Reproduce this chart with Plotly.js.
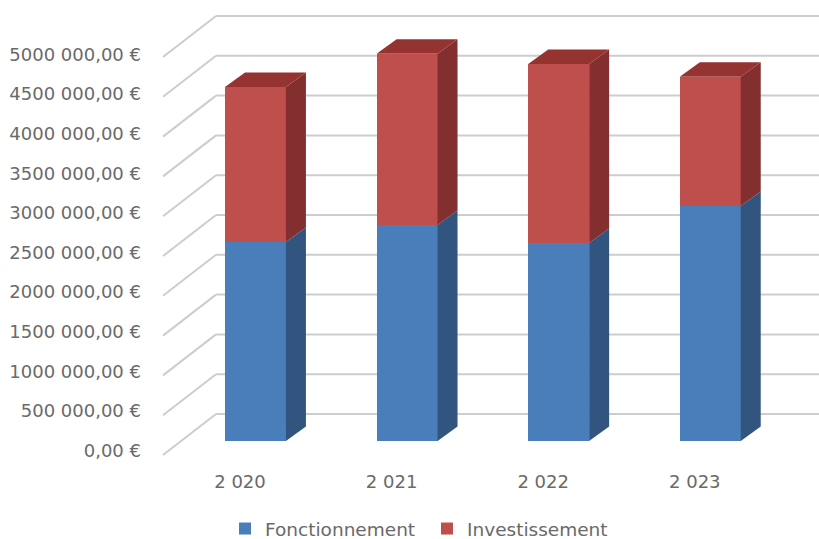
<!DOCTYPE html>
<html>
<head>
<meta charset="utf-8">
<script src="https://cdn.plot.ly/plotly-3.0.1.min.js"></script>
<style>html,body{margin:0;padding:0;background:#fff}</style>
</head>
<body>
<div id="chart" style="width:819px;height:539px"></div>
<script>
const categories = ['2 020', '2 021', '2 022', '2 023'];
const fonctionnement = [2500000, 2714000, 2487000, 2952000];
const investissement = [1947000, 2152000, 2249000, 1625000];
const tickValues = [0, 500000, 1000000, 1500000, 2000000, 2500000, 3000000, 3500000, 4000000, 4500000, 5000000];
const tickLabels = ['0,00 €', '500 000,00 €', '1000 000,00 €', '1500 000,00 €', '2000 000,00 €', '2500 000,00 €', '3000 000,00 €', '3500 000,00 €', '4000 000,00 €', '4500 000,00 €', '5000 000,00 €'];

const W = 819, H = 539, plotL = 142, plotB = H, xLabelTop = 469;
const xPx = 151.6, x0Px = 240;                 // px per category, px of first tick
const yPx = 39.8 / 500000, y0Px = 441;         // bars: px per euro, px of zero
const xr = [(plotL - x0Px) / xPx, (W - x0Px) / xPx];
const yr = [(y0Px - plotB) / yPx, y0Px / yPx];
const yr2 = [(450.5 - plotB) * 500000 / 39.6, 450.5 * 500000 / 39.6];
const barShift = 0.102, barWidth = 0.402;
const sideDx = 20 / xPx, sideDy = 14.5 / yPx;
const gridFrontX = (163 - x0Px) / xPx, gridBackX = (216 - x0Px) / xPx;
const gridFrontDy = -14 / yPx, gridBackDy = 27 / yPx;

const colors = { blue: '#4a7ebb', blueSide: '#31557f', red: '#be4f4c', redSide: '#832f2f', redTop: '#953331', grid: '#cdcdcd' };
const poly = (pts, fill) => ({
  type: 'path', xref: 'x', yref: 'y', layer: 'above', fillcolor: fill, line: { width: 0 },
  path: 'M' + pts.map(p => p[0] + ',' + p[1]).join(' L') + ' Z'
});

const shapes = [];
tickValues.forEach(v => {
  shapes.push({ type: 'line', xref: 'x', yref: 'y', layer: 'below', x0: gridFrontX, y0: v + gridFrontDy, x1: gridBackX, y1: v + gridBackDy, line: { color: colors.grid, width: 2 } });
  shapes.push({ type: 'line', xref: 'x', yref: 'y', layer: 'below', x0: gridBackX, y0: v + gridBackDy, x1: xr[1], y1: v + gridBackDy, line: { color: colors.grid, width: 2 } });
});
categories.forEach((c, i) => {
  const l = i + barShift - barWidth / 2, r = i + barShift + barWidth / 2;
  const a = fonctionnement[i], t = a + investissement[i];
  shapes.push(poly([[r, 0], [r + sideDx, sideDy], [r + sideDx, a + sideDy], [r, a]], colors.blueSide));
  shapes.push(poly([[r, a], [r + sideDx, a + sideDy], [r + sideDx, t + sideDy], [r, t]], colors.redSide));
  shapes.push(poly([[l, t], [l + sideDx, t + sideDy], [r + sideDx, t + sideDy], [r, t]], colors.redTop));
});

const xs = categories.map((c, i) => i + barShift);
const font = { family: '"DejaVu Sans", sans-serif', size: 18, color: '#6a6a6a' };
const legendFont = { family: '"DejaVu Sans", sans-serif', size: 18.5, color: '#6a6a6a' };
const traces = [
  { type: 'bar', name: 'Fonctionnement', x: xs, y: fonctionnement, width: barWidth, marker: { color: colors.blue, line: { width: 0 } } },
  { type: 'bar', name: 'Investissement', x: xs, y: investissement, width: barWidth, marker: { color: colors.red, line: { width: 0 } } },
  { type: 'scatter', x: [0], y: [0], yaxis: 'y2', mode: 'none', showlegend: false, hoverinfo: 'skip' }
];
const layout = {
  width: W, height: H, paper_bgcolor: '#fff', plot_bgcolor: '#fff',
  margin: { l: plotL, r: 0, t: 0, b: 0, pad: 0, autoexpand: false },
  barmode: 'stack', showlegend: true, font: font, shapes: shapes,
  xaxis: { range: xr, anchor: 'free', position: (H - xLabelTop) / H, tickmode: 'array', tickvals: categories.map((c, i) => i), ticktext: categories, ticks: '', showgrid: false, zeroline: false, showline: false, tickangle: 0, tickfont: font, automargin: false },
  yaxis: { range: yr, domain: [0, 1], showticklabels: false, ticks: '', showgrid: false, zeroline: false, showline: false, automargin: false },
  yaxis2: { range: yr2, domain: [0, 1], overlaying: 'y', side: 'left', tickmode: 'array', tickvals: tickValues, ticktext: tickLabels, ticks: '', showgrid: false, zeroline: false, showline: false, tickfont: font, automargin: false },
  legend: { orientation: 'h', x: (225 - plotL) / (W - plotL), xanchor: 'left', y: (H - 529) / H, yanchor: 'middle', font: legendFont, traceorder: 'normal', bgcolor: 'rgba(0,0,0,0)', entrywidth: 157, entrywidthmode: 'pixels' }
};
Plotly.newPlot('chart', traces, layout, { displayModeBar: false, staticPlot: true });
</script>
</body>
</html>
